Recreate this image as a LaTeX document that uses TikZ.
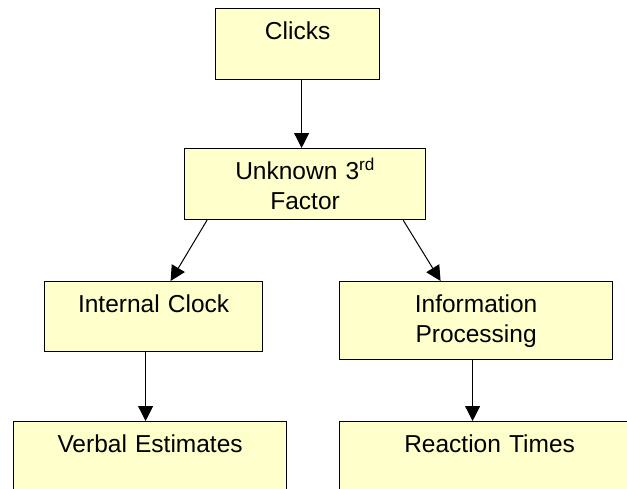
\documentclass[tikz,border=0pt]{standalone}
\usepackage{fontspec}
\setmainfont{Liberation Sans}
\usepackage{xcolor}
\usetikzlibrary{arrows.meta}
\definecolor{ink}{HTML}{000000}
\definecolor{pad}{HTML}{FFFFCC}
\tikzset{
  stage/.style={
    draw=ink, fill=pad, line width=1.2pt, inner sep=0pt, align=center,
    anchor=north west, text height=31pt,
    font=\fontsize{24.5}{29.5}\selectfont\color{ink}},
  flow/.style={-{Triangle[length=15pt,width=15pt]}, line width=1pt, color=ink},
}
\begin{document}
\begin{tikzpicture}[x=1pt, y=-1pt]
  \useasboundingbox (0,0) rectangle (627,488);
  \clip (0,0) rectangle (627,488);

  \node[stage, text width=164pt, text depth=40pt] (clicks) at (215,8) {Clicks};
  \node[stage, text width=241pt, text depth=40pt] (factor) at (184,148)
    {Unknown 3\textsuperscript{rd}\\Factor};
  \node[stage, text width=218pt, text depth=39pt] (clock) at (44,281) {Internal Clock};
  \node[stage, text width=273pt, text depth=47pt] (info) at (339,281)
    {Information\\Processing};
  \node[stage, text width=273pt, text depth=60pt] (verbal) at (13,421) {Verbal Estimates};
  \node[stage, text width=300pt, text depth=60pt] (reaction) at (339,421) {Reaction Times};

  \draw[flow] ([xshift=4pt]clicks.south) -- ([xshift=4pt]clicks.south |- factor.north);
  \draw[flow] ([xshift=23pt]factor.south west) -- ([xshift=17pt]clock.north);
  \draw[flow] ([xshift=-23pt]factor.south east) -- ([xshift=-35.5pt]info.north);
  \draw[flow] ([xshift=-8pt]clock.south) -- ([xshift=-8pt]clock.south |- verbal.north);
  \draw[flow] ([xshift=-3.5pt]info.south) -- ([xshift=-3.5pt]info.south |- reaction.north);
\end{tikzpicture}
\end{document}
